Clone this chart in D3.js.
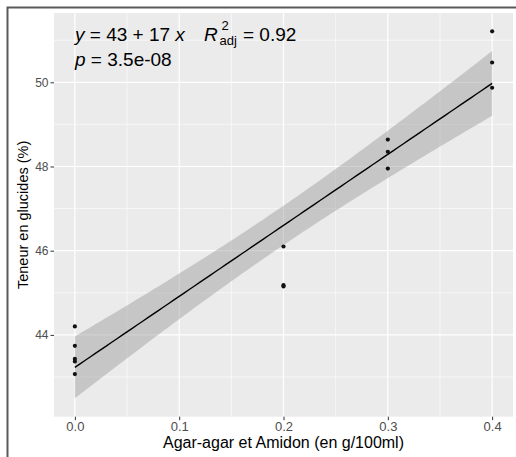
<!DOCTYPE html>
<html>
<head>
<meta charset="utf-8">
<script src="https://cdn.jsdelivr.net/npm/d3@7"></script>
<style>
  body { margin: 0; background: #fff; }
  svg { display: block; font-family: "Liberation Sans", Arial, sans-serif; }
  text { white-space: pre; }
</style>
</head>
<body>
<div id="chart"></div>
<script>
// measured points: agar-agar + amidon dose (g/100ml) vs sugar content (%)
const doses = [0, 0, 0, 0, 0, 0.2, 0.2, 0.2, 0.3, 0.3, 0.3, 0.4, 0.4, 0.4];
const glucides = [44.2, 43.74, 43.43, 43.37, 43.07, 46.1, 45.15, 45.18, 48.64, 48.35, 47.95, 51.21, 50.47, 49.87];
const xTicks = [0, 0.1, 0.2, 0.3, 0.4];
const yTicks = [44, 46, 48, 50];
const xTitle = 'Agar-agar et Amidon (en g/100ml)';
const yTitle = 'Teneur en glucides (%)';
const T975 = 2.179; // t quantile, df = 12

const width = 516;
const height = 457;
const panel = { left: 54, right: 513, top: 13, bottom: 416.7 };

// linear fit + 95% confidence band (like geom_smooth(method = "lm"))
const n = doses.length;
const mx = d3.mean(doses);
const my = d3.mean(glucides);
const sxx = d3.sum(doses, (d) => (d - mx) ** 2);
const sxy = d3.sum(doses, (d, i) => (d - mx) * (glucides[i] - my));
const slope = sxy / sxx;
const intercept = my - slope * mx;
const sse = d3.sum(doses, (d, i) => (glucides[i] - (intercept + slope * d)) ** 2);
const s = Math.sqrt(sse / (n - 2));

const xExt = d3.extent(doses);
const fit = d3.range(81).map((i) => {
  const x = xExt[0] + ((xExt[1] - xExt[0]) * i) / 80;
  const yhat = intercept + slope * x;
  const se = s * Math.sqrt(1 / n + (x - mx) ** 2 / sxx);
  return { x, y: yhat, lo: yhat - T975 * se, hi: yhat + T975 * se };
});

// ggplot style 5% expansion
const expand = (lo, hi) => [lo - (hi - lo) * 0.05, hi + (hi - lo) * 0.05];
const yLo = Math.min(d3.min(glucides), d3.min(fit, (d) => d.lo));
const yHi = Math.max(d3.max(glucides), d3.max(fit, (d) => d.hi));

const x = d3.scaleLinear().domain(expand(xExt[0], xExt[1])).range([panel.left, panel.right]);
const y = d3.scaleLinear().domain(expand(yLo, yHi)).range([panel.bottom, panel.top]);

const svg = d3.select('#chart').append('svg').attr('width', width).attr('height', height);

// outer frame (left + top edges visible)
svg
  .append('path')
  .attr('d', `M7.5,${height} V7.5 H${width}`)
  .attr('fill', 'none')
  .attr('stroke', '#5a5a5a')
  .attr('stroke-width', 2);

svg
  .append('rect')
  .attr('x', panel.left)
  .attr('y', panel.top)
  .attr('width', panel.right - panel.left)
  .attr('height', panel.bottom - panel.top)
  .attr('fill', '#ebebeb');

const grid = svg.append('g').attr('stroke', '#fff').attr('fill', 'none');
const xMinor = xTicks.slice(0, -1).map((d, i) => (d + xTicks[i + 1]) / 2);
const yMinor = [yTicks[0] - 1].concat(yTicks.map((d) => d + 1));
grid
  .selectAll('.xm')
  .data(xMinor)
  .join('line')
  .attr('x1', (d) => x(d))
  .attr('x2', (d) => x(d))
  .attr('y1', panel.top)
  .attr('y2', panel.bottom)
  .attr('stroke-width', 0.6);
grid
  .selectAll('.ym')
  .data(yMinor.filter((d) => y(d) > panel.top && y(d) < panel.bottom))
  .join('line')
  .attr('x1', panel.left)
  .attr('x2', panel.right)
  .attr('y1', (d) => y(d))
  .attr('y2', (d) => y(d))
  .attr('stroke-width', 0.6);
grid
  .selectAll('.xM')
  .data(xTicks)
  .join('line')
  .attr('x1', (d) => x(d))
  .attr('x2', (d) => x(d))
  .attr('y1', panel.top)
  .attr('y2', panel.bottom)
  .attr('stroke-width', 1.2);
grid
  .selectAll('.yM')
  .data(yTicks)
  .join('line')
  .attr('x1', panel.left)
  .attr('x2', panel.right)
  .attr('y1', (d) => y(d))
  .attr('y2', (d) => y(d))
  .attr('stroke-width', 1.2);

// confidence ribbon + fitted line
svg
  .append('path')
  .datum(fit)
  .attr('fill', '#999')
  .attr('fill-opacity', 0.45)
  .attr(
    'd',
    d3
      .area()
      .x((d) => x(d.x))
      .y0((d) => y(d.lo))
      .y1((d) => y(d.hi)),
  );
svg
  .append('path')
  .datum(fit)
  .attr('fill', 'none')
  .attr('stroke', '#000')
  .attr('stroke-width', 1.4)
  .attr(
    'd',
    d3
      .line()
      .x((d) => x(d.x))
      .y((d) => y(d.y)),
  );

svg
  .append('g')
  .selectAll('circle')
  .data(doses)
  .join('circle')
  .attr('cx', (d) => x(d))
  .attr('cy', (d, i) => y(glucides[i]))
  .attr('r', 2.1)
  .attr('fill', '#111');

// axes
const xAxis = svg
  .append('g')
  .attr('transform', `translate(0,${panel.bottom})`)
  .call(d3.axisBottom(x).tickValues(xTicks).tickFormat(d3.format('.1f')).tickSize(3.5).tickPadding(2));
const yAxis = svg
  .append('g')
  .attr('transform', `translate(${panel.left},0)`)
  .call(d3.axisLeft(y).tickValues(yTicks).tickSize(3.5).tickPadding(2));
[xAxis, yAxis].forEach((g) => {
  g.select('.domain').remove();
  g.selectAll('.tick line').attr('stroke', '#333').attr('stroke-width', 1);
  g.selectAll('.tick text').attr('fill', '#4d4d4d').attr('font-family', 'Liberation Sans, Arial, sans-serif');
});
xAxis.selectAll('.tick text').attr('font-size', 13);
yAxis.selectAll('.tick text').attr('font-size', 12);

svg
  .append('text')
  .attr('x', (panel.left + panel.right) / 2)
  .attr('y', 448)
  .attr('text-anchor', 'middle')
  .attr('font-size', 16)
  .attr('fill', '#000')
  .text(xTitle);
svg
  .append('text')
  .attr('transform', `translate(28,${(panel.top + panel.bottom) / 2}) rotate(-90)`)
  .attr('text-anchor', 'middle')
  .attr('font-size', 14.5)
  .attr('fill', '#000')
  .text(yTitle);

// regression label (stat_regline_equation style)
const lab = svg.append('g').attr('font-size', 19).attr('fill', '#000');
const line1 = lab.append('text').attr('x', 75).attr('y', 41);
line1.append('tspan').attr('font-style', 'italic').text('y');
line1.append('tspan').text(' = 43 + 17 ');
line1.append('tspan').attr('font-style', 'italic').text('x');
lab.append('text').attr('x', 204).attr('y', 41).attr('font-style', 'italic').text('R');
lab.append('text').attr('x', 221.5).attr('y', 30).attr('font-size', 13).text('2');
lab.append('text').attr('x', 219.5).attr('y', 44.5).attr('font-size', 13).text('adj');
lab.append('text').attr('x', 243).attr('y', 41).text('= 0.92');
const line2 = lab.append('text').attr('x', 75).attr('y', 66);
line2.append('tspan').attr('font-style', 'italic').text('p');
line2.append('tspan').text(' = 3.5e-08');
</script>
</body>
</html>
